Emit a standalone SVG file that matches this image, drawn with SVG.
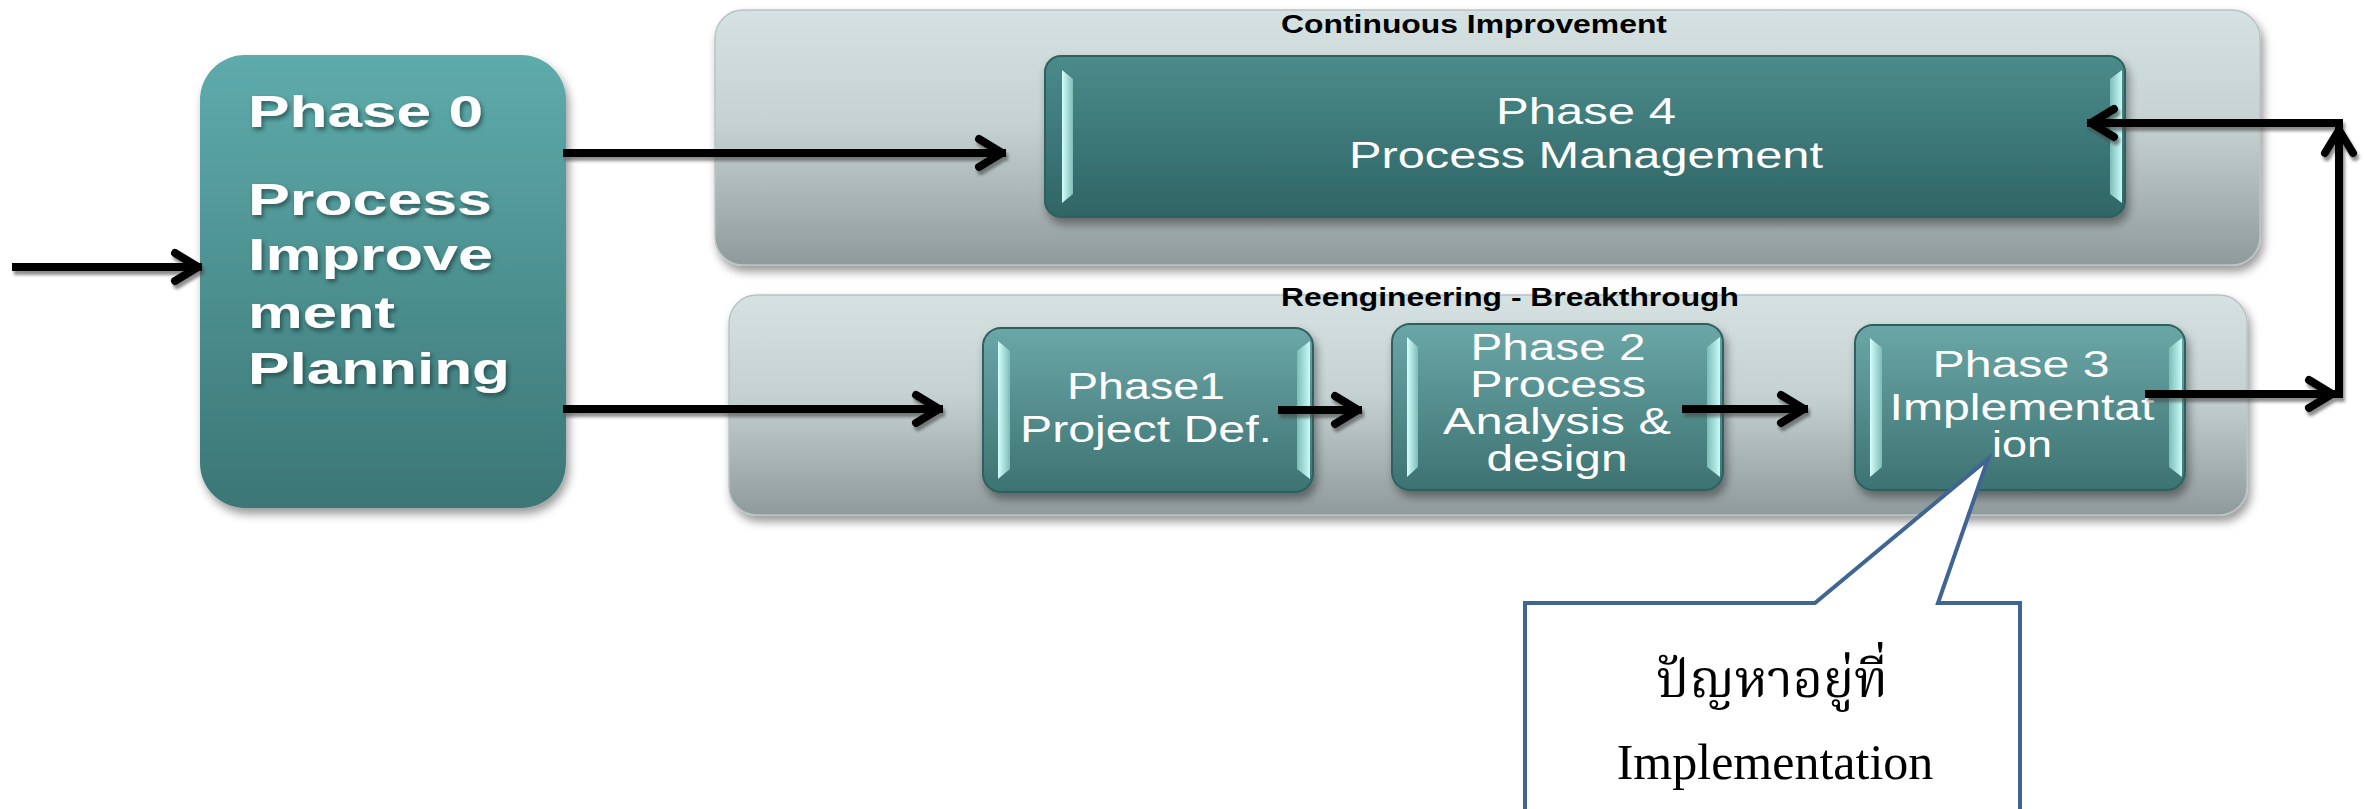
<svg xmlns="http://www.w3.org/2000/svg" width="2364" height="809" viewBox="0 0 2364 809">
<defs>
<style>
.ph0{font-family:"Liberation Sans",Arial,sans-serif;font-weight:bold;font-size:44px;fill:#fff}
.ph{font-family:"Liberation Sans",Arial,sans-serif;font-size:36px;fill:#fff;text-anchor:middle}
.ttl{font-family:"Liberation Sans Narrow","Liberation Sans",Arial,sans-serif;font-weight:bold;font-size:26px;fill:#000;text-anchor:middle}
.conn{fill:none;stroke:#000;stroke-width:8;stroke-linecap:butt}
.hl{fill:url(#gHL)}
.hr{fill:url(#gHR)}
.box{stroke:#2f6060;stroke-width:2}
</style>
<linearGradient id="gCont" x1="0" y1="0" x2="0" y2="1">
<stop offset="0" stop-color="#d6e1e1"/>
<stop offset="0.45" stop-color="#c6d2d2"/>
<stop offset="1" stop-color="#8f9a9b"/>
</linearGradient>
<linearGradient id="gP0" x1="0" y1="0" x2="0" y2="1">
<stop offset="0" stop-color="#5eabab"/>
<stop offset="1" stop-color="#3c7676"/>
</linearGradient>
<linearGradient id="gP4" x1="0" y1="0" x2="0" y2="1">
<stop offset="0" stop-color="#4b8b8b"/>
<stop offset="1" stop-color="#2f6565"/>
</linearGradient>
<linearGradient id="gPh" x1="0" y1="0" x2="0" y2="1">
<stop offset="0" stop-color="#6ba7a7"/>
<stop offset="1" stop-color="#3d7272"/>
</linearGradient>
<linearGradient id="gHL" x1="0" y1="0" x2="1" y2="0">
<stop offset="0" stop-color="#d4fffc"/>
<stop offset="1" stop-color="#7dbcb8"/>
</linearGradient>
<linearGradient id="gHR" x1="0" y1="0" x2="1" y2="0">
<stop offset="0" stop-color="#7dbcb8"/>
<stop offset="1" stop-color="#c8fbf8"/>
</linearGradient>
<filter id="sh" x="-10%" y="-10%" width="130%" height="130%">
<feDropShadow dx="3" dy="6" stdDeviation="5" flood-color="#000" flood-opacity="0.4"/>
</filter>
<filter id="ash" x="-5%" y="-50%" width="110%" height="200%">
<feDropShadow dx="2" dy="4" stdDeviation="1.5" flood-color="#444" flood-opacity="0.6"/>
</filter>
<filter id="tsh" x="-10%" y="-30%" width="120%" height="160%">
<feDropShadow dx="2" dy="3" stdDeviation="2" flood-color="#0a2a2a" flood-opacity="0.6"/>
</filter>
<marker id="ah" markerUnits="userSpaceOnUse" viewBox="-34 -20 40 40" refX="0" refY="0" markerWidth="40" markerHeight="40" orient="auto" overflow="visible">
<path d="M-27,-14 L-4,0 L-27,14" fill="none" stroke="#000" stroke-width="8" stroke-linecap="round" stroke-linejoin="round"/>
</marker>
</defs>
<rect width="2364" height="809" fill="#fff"/>

<g id="container-continuous">
<rect x="715" y="10" width="1545" height="255" rx="28" fill="url(#gCont)" stroke="#b8c4c4" stroke-width="1.5" filter="url(#sh)"/>
<text class="ttl" x="1474" y="33" textLength="386" lengthAdjust="spacingAndGlyphs">Continuous Improvement</text>
</g>
<g id="container-reengineering">
<rect x="729" y="295" width="1518" height="220" rx="28" fill="url(#gCont)" stroke="#b8c4c4" stroke-width="1.5" filter="url(#sh)"/>
<text class="ttl" x="1510" y="306" textLength="458" lengthAdjust="spacingAndGlyphs">Reengineering - Breakthrough</text>
</g>

<g id="phase0">
<rect x="200" y="55" width="366" height="453" rx="45" fill="url(#gP0)" filter="url(#sh)"/>
<g filter="url(#tsh)">
<text class="ph0" x="248" y="127" textLength="235" lengthAdjust="spacingAndGlyphs">Phase 0</text>
<text class="ph0" x="248" y="215" textLength="244" lengthAdjust="spacingAndGlyphs">Process</text>
<text class="ph0" x="248" y="270" textLength="245" lengthAdjust="spacingAndGlyphs">Improve</text>
<text class="ph0" x="248" y="328" textLength="147" lengthAdjust="spacingAndGlyphs">ment</text>
<text class="ph0" x="248" y="384" textLength="262" lengthAdjust="spacingAndGlyphs">Planning</text>
</g>
</g>

<g id="phase4">
<rect class="box" x="1045" y="56" width="1080" height="161" rx="16" fill="url(#gP4)" filter="url(#sh)"/>
<path class="hl" d="M1062,70 L1073,79 V194 L1062,203 Z"/>
<path class="hr" d="M2122,70 L2110,79 V194 L2122,203 Z"/>
<text class="ph" x="1586" y="124" font-size="37" textLength="180" lengthAdjust="spacingAndGlyphs">Phase 4</text>
<text class="ph" x="1586" y="168" font-size="37" textLength="474" lengthAdjust="spacingAndGlyphs">Process Management</text>
</g>

<g id="phase1">
<rect class="box" x="983" y="328" width="330" height="164" rx="18" fill="url(#gPh)" filter="url(#sh)"/>
<path class="hl" d="M998,341 L1010,351 V469 L998,479 Z"/>
<path class="hr" d="M1310,341 L1297,351 V469 L1310,479 Z"/>
<text class="ph" x="1146" y="399" textLength="158" lengthAdjust="spacingAndGlyphs">Phase1</text>
<text class="ph" x="1146" y="442" textLength="252" lengthAdjust="spacingAndGlyphs">Project Def.</text>
</g>

<g id="phase2">
<rect class="box" x="1392" y="324" width="331" height="166" rx="18" fill="url(#gPh)" filter="url(#sh)"/>
<path class="hl" d="M1407,337 L1418,347 V467 L1407,477 Z"/>
<path class="hr" d="M1720,337 L1707,347 V467 L1720,477 Z"/>
<text class="ph" x="1558" y="360" font-size="32" textLength="175" lengthAdjust="spacingAndGlyphs">Phase 2</text>
<text class="ph" x="1558" y="397" font-size="32" textLength="176" lengthAdjust="spacingAndGlyphs">Process</text>
<text class="ph" x="1557" y="434" font-size="32" textLength="228" lengthAdjust="spacingAndGlyphs">Analysis &amp;</text>
<text class="ph" x="1557" y="471" font-size="32" textLength="141" lengthAdjust="spacingAndGlyphs">design</text>
</g>

<g id="phase3">
<rect class="box" x="1855" y="325" width="330" height="165" rx="18" fill="url(#gPh)" filter="url(#sh)"/>
<path class="hl" d="M1870,338 L1882,348 V467 L1870,477 Z"/>
<path class="hr" d="M2182,338 L2169,348 V467 L2182,477 Z"/>
<text class="ph" x="2021" y="377" textLength="177" lengthAdjust="spacingAndGlyphs">Phase 3</text>
<text class="ph" x="2022" y="420" textLength="265" lengthAdjust="spacingAndGlyphs">Implementat</text>
<text class="ph" x="2022" y="457" textLength="60" lengthAdjust="spacingAndGlyphs">ion</text>
</g>

<g id="connectors" filter="url(#ash)">
<path class="conn" d="M12,267 H202" marker-end="url(#ah)"/>
<path class="conn" d="M563,153 H1006" marker-end="url(#ah)"/>
<path class="conn" d="M563,409 H943" marker-end="url(#ah)"/>
<path class="conn" d="M1278,410 H1362" marker-end="url(#ah)"/>
<path class="conn" d="M1682,409 H1808" marker-end="url(#ah)"/>
<path class="conn" d="M2145,394 H2336" marker-end="url(#ah)"/>
<path class="conn" d="M2339,398 V126" marker-end="url(#ah)"/>
<path class="conn" d="M2343,123 H2087" marker-end="url(#ah)"/>
</g>

<g id="callout">
<path d="M1525,603 H1815 L1988,459 L1938,603 H2020 V815 H1525 Z" fill="#fff" stroke="#416593" stroke-width="4" stroke-linejoin="miter"/>
<text x="1772" y="697" text-anchor="middle" font-family="'Noto Serif Thai','Noto Sans Thai','Liberation Serif',serif" font-size="52" fill="#000">ปัญหาอยู่ที่</text>
<text x="1775" y="779" text-anchor="middle" font-family="'Liberation Serif','Times New Roman',serif" font-size="50" fill="#000">Implementation</text>
</g>
</svg>
